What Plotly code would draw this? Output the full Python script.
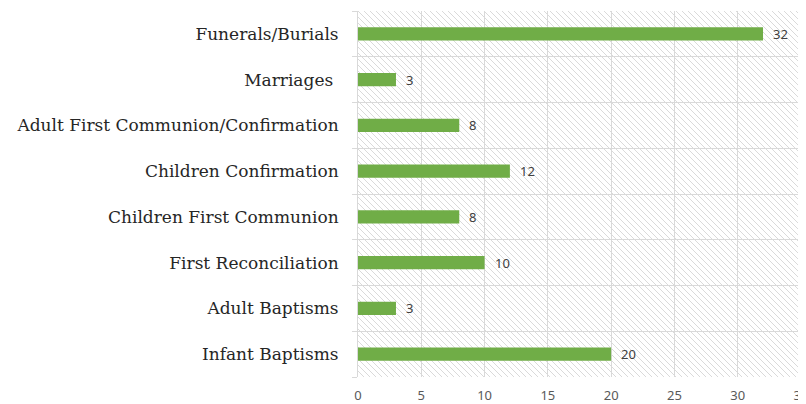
import base64
import plotly.graph_objects as go

# categories listed bottom to top, as plotly draws horizontal bars
categories = [
    "Infant Baptisms",
    "Adult Baptisms",
    "First Reconciliation",
    "Children First Communion",
    "Children Confirmation",
    "Adult First Communion/Confirmation",
    "Marriages ",
    "Funerals/Burials",
]
counts = [20, 3, 10, 8, 12, 8, 3, 32]

x_ticks = [0, 5, 10, 15, 20, 25, 30, 35]

GREEN = "#70ad47"
GRID = "#d9d9d9"

# the page body keeps its default 8px margin, so the figure is 16px smaller than the window
W, H = 798, 396
M = dict(l=350, r=5, t=3, b=27)
PW, PH = W - M["l"] - M["r"], H - M["t"] - M["b"]

# excel style "wide downward diagonal" fill for the plot area
hatch_svg = (
    f'<svg xmlns="http://www.w3.org/2000/svg" width="{PW}" height="{PH}" viewBox="0 0 {PW} {PH}">'
    '<defs><pattern id="p" patternUnits="userSpaceOnUse" width="6" height="6">'
    '<path d="M0,0 L6,6 M-1,5 L1,7 M5,-1 L7,1" stroke="#dadada" stroke-width="1"/>'
    '</pattern></defs>'
    f'<rect width="{PW}" height="{PH}" fill="url(#p)"/></svg>'
)
hatch_src = "data:image/svg+xml;base64," + base64.b64encode(hatch_svg.encode()).decode()

fig = go.Figure(go.Bar(
    x=counts, y=categories, orientation="h",
    marker=dict(color=GREEN, line=dict(width=0)),
    hoverinfo="x+y", showlegend=False,
))

# value labels a little way past the bar ends
for cat, val in zip(categories, counts):
    fig.add_annotation(
        x=val, y=cat, text=str(val), showarrow=False,
        xanchor="left", xshift=8,
        font=dict(family="Noto Sans", size=13, color="#404040"),
    )

fig.add_layout_image(
    source=hatch_src, xref="paper", yref="paper", x=0, y=1,
    sizex=1, sizey=1, sizing="stretch", xanchor="left", yanchor="top", layer="below",
)

fig.update_layout(
    width=W, height=H,
    margin=M,
    paper_bgcolor="white", plot_bgcolor="rgba(0,0,0,0)",
    bargap=0.71,
    xaxis=dict(
        range=[0, 35], tickvals=x_ticks, showgrid=True, gridcolor=GRID, gridwidth=1,
        zeroline=False, showline=False, ticks="", automargin=False,
        ticklabelstandoff=9, ticklabeloverflow="allow",
        tickfont=dict(family="Noto Sans", size=13, color="#595959"),
    ),
    yaxis=dict(
        type="category", categoryorder="array", categoryarray=categories,
        tickson="boundaries", showgrid=True, gridcolor=GRID, gridwidth=1,
        ticks="outside", ticklen=5, tickcolor=GRID, ticklabelstandoff=15,
        showline=True, linecolor=GRID, linewidth=1, automargin=False,
        tickfont=dict(family="DejaVu Serif", size=17, color="#262626"),
    ),
)

fig.write_html("out.html")
